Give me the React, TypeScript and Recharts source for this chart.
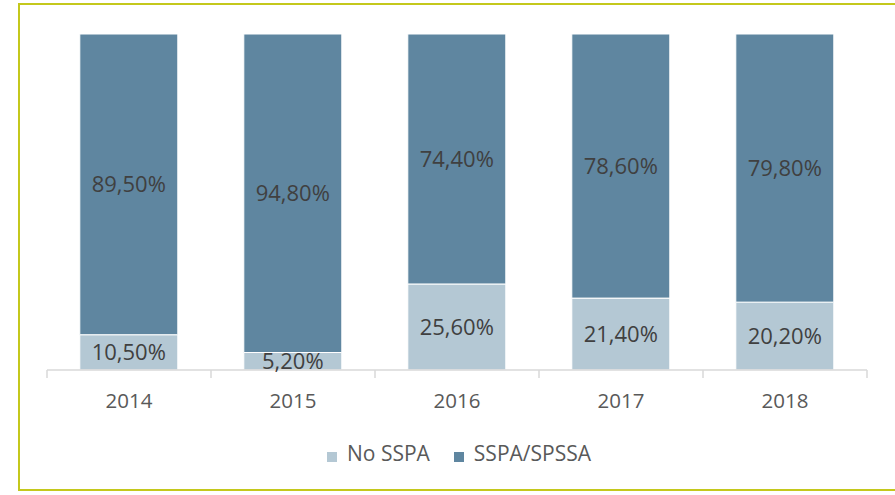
import React from 'react';
import { BarChart, Bar, XAxis, YAxis, Legend, LabelList } from 'recharts';

const years = ['2014', '2015', '2016', '2017', '2018'];
const noSspa = [10.5, 5.2, 25.6, 21.4, 20.2];
const sspa = [89.5, 94.8, 74.4, 78.6, 79.8];

const data = years.map((y, i) => ({ year: y, noSspa: noSspa[i], sspa: sspa[i] }));

const fmt = (v: any) => `${Number(v).toFixed(2).replace('.', ',')}%`;

const FONT = '"Open Sans", sans-serif';

const CategoryTick = (props: any) => {
  const { x, y, payload, index, visibleTicksCount, width } = props;
  const band = width / (visibleTicksCount || 5);
  const left = x - band / 2;
  const right = x + band / 2;
  return (
    <g>
      <line x1={left} y1={y} x2={left} y2={y + 8} stroke="#d9d9d9" strokeWidth={1.5} />
      {index === visibleTicksCount - 1 && (
        <line x1={right} y1={y} x2={right} y2={y + 8} stroke="#d9d9d9" strokeWidth={1.5} />
      )}
      <text x={x} y={y + 38} textAnchor="middle" fill="#595959" fontSize={20.5} fontFamily={FONT}>
        {payload.value}
      </text>
    </g>
  );
};

export default function App() {
  return (
    <div style={{ position: 'absolute', left: 0, top: 0, width: 895, height: 495, background: '#fff', fontFamily: FONT }}>
      <div style={{ position: 'absolute', left: 18, top: 3, width: 885, height: 488, border: '2px solid #c4c81c', boxSizing: 'border-box' }} />
      <div style={{ position: 'absolute', left: 0, top: 0 }}>
        <BarChart
          width={895}
          height={495}
          data={data}
          margin={{ top: 34, right: 28, bottom: 28, left: 47 }}
          barCategoryGap="20%"
        >
          <XAxis
            dataKey="year"
            height={69}
            tickLine={false}
            axisLine={{ stroke: '#d9d9d9', strokeWidth: 1.5 }}
            tickSize={0}
            tickMargin={0}
            interval={0}
            tick={<CategoryTick />}
          />
          <YAxis hide domain={[0, 100]} />
          <Legend
            verticalAlign="bottom"
            align="center"
            iconType="square"
            iconSize={10}
            wrapperStyle={{ paddingLeft: 14 }}
            formatter={(value: any) => (
              <span style={{ color: '#595959', fontSize: 21, fontFamily: FONT, marginLeft: 6, marginRight: 14 }}>{value}</span>
            )}
          />
          <Bar dataKey="noSspa" name="No SSPA" stackId="a" fill="#b4c8d4" stroke="#ffffff" strokeWidth={1} isAnimationActive={false}>
            <LabelList dataKey="noSspa" position="center" formatter={fmt} fill="#404040" fontSize={22} fontFamily={FONT} />
          </Bar>
          <Bar dataKey="sspa" name="SSPA/SPSSA" stackId="a" fill="#5f86a0" stroke="#ffffff" strokeWidth={1} isAnimationActive={false}>
            <LabelList dataKey="sspa" position="center" formatter={fmt} fill="#404040" fontSize={22} fontFamily={FONT} />
          </Bar>
        </BarChart>
      </div>
    </div>
  );
}
